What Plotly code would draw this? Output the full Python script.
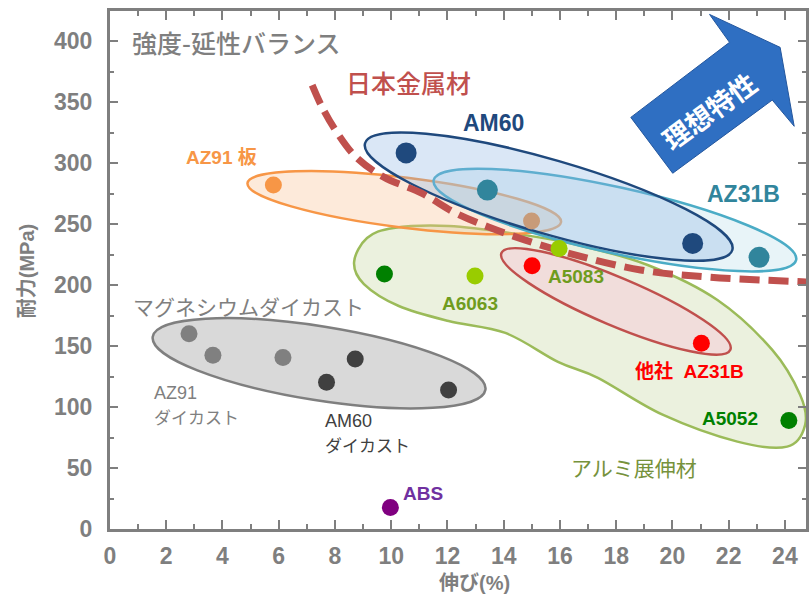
import math
import plotly.graph_objects as go

# ---- canvas / axes ----
W, H = 809, 596
M_L, M_R, M_T, M_B = 110, 0, 11, 67
X_MAX, Y_MAX = 24.75, 424.6
SX = (W - M_L - M_R) / X_MAX   # px per % elongation
SY = (H - M_T - M_B) / Y_MAX   # px per MPa

GRAY = "#7F7F7F"
JP = "Noto Sans CJK JP"
LAT = "Liberation Sans, Noto Sans CJK JP"

# ---- measured materials: elongation (%) / proof stress (MPa) ----
am60_x, am60_y = [10.53, 20.72], [308.3, 234.1]
az31b_x, az31b_y = [13.42, 23.08], [277.8, 222.7]
az31b_mid_x, az31b_mid_y = [14.99], [252.4]
az91_plate_x, az91_plate_y = [5.81], [281.9]
other_az31b_x, other_az31b_y = [15.01, 21.03], [215.8, 152.3]
a6063_x, a6063_y = [12.98, 15.97], [207.4, 230.0]
a5052_x, a5052_y = [9.76, 24.14], [209.0, 88.9]
abs_x, abs_y = [9.97], [17.7]
az91_die_x, az91_die_y = [2.81, 3.66, 6.15], [160.1, 142.4, 140.5]
am60_die_x, am60_die_y = [7.70, 8.72, 12.04], [120.3, 139.4, 114.0]

# domestic-metal boundary curve
jp_curve_x = [7.19, 7.54, 8.04, 8.75, 9.74, 11.08, 12.29, 13.46, 14.77, 16.29, 18.87, 21.25, 24.8]
jp_curve_y = [363.8, 345.9, 326.1, 304.8, 288.4, 275.3, 258.9, 247.5, 236.8, 226.2, 212.3, 206.6, 202.5]

# aluminium wrought alloy region outline
alu_x = [8.68, 9.14, 10.09, 12.04, 14.52, 16.64, 19.12, 21.60, 23.55, 24.54, 24.72, 24.08,
         22.31, 19.65, 17.35, 15.93, 14.06, 12.04, 10.27, 9.03]
alu_y = [218.8, 238.5, 246.7, 248.3, 241.7, 232.7, 216.4, 187.7, 146.8, 110.0, 85.5, 67.5,
         71.6, 93.7, 123.9, 137.0, 160.7, 170.5, 182.8, 200.8]

# arrow outline (理想特性)
arrow_x = [18.52, 22.03, 21.32, 23.83, 24.33, 23.55, 20.01]
arrow_y = [337.4, 398.9, 421.8, 394.8, 330.1, 351.6, 291.6]


def ellipse_path(p1, p2, half_w_px):
    """Closed bezier path of an ellipse with axis p1-p2 and given screen half-width."""
    cx, cy = (p1[0] + p2[0]) / 2, (p1[1] + p2[1]) / 2
    ux, uy = (p2[0] - p1[0]) / 2, (p2[1] - p1[1]) / 2
    upx, upy = ux * SX, uy * SY
    L = math.hypot(upx, upy)
    vx, vy = (-upy / L * half_w_px) / SX, (upx / L * half_w_px) / SY
    k = 0.5523

    def P(a):
        return f"{cx + a[0]:.4f},{cy + a[1]:.4f}"

    def add(a, b, s=1.0):
        return (a[0] + s * b[0], a[1] + s * b[1])

    u, v = (ux, uy), (vx, vy)
    nu, nv = (-ux, -uy), (-vx, -vy)
    d = f"M{P(u)}"
    d += f" C{P(add(u, v, k))} {P(add(v, u, k))} {P(v)}"
    d += f" C{P(add(v, u, -k))} {P(add(nu, v, k))} {P(nu)}"
    d += f" C{P(add(nu, v, -k))} {P(add(nv, u, -k))} {P(nv)}"
    d += f" C{P(add(nv, u, k))} {P(add(u, v, -k))} {P(u)} Z"
    return d


def closed_spline_path(xs, ys):
    n = len(xs)
    pts = list(zip(xs, ys))
    d = f"M{pts[0][0]},{pts[0][1]}"
    for i in range(n):
        p0, p1, p2, p3 = pts[i - 1], pts[i], pts[(i + 1) % n], pts[(i + 2) % n]
        c1 = (p1[0] + (p2[0] - p0[0]) / 6, p1[1] + (p2[1] - p0[1]) / 6)
        c2 = (p2[0] - (p3[0] - p1[0]) / 6, p2[1] - (p3[1] - p1[1]) / 6)
        d += f" C{c1[0]:.4f},{c1[1]:.4f} {c2[0]:.4f},{c2[1]:.4f} {p2[0]},{p2[1]}"
    return d + " Z"


def polygon_path(xs, ys):
    return "M" + " L".join(f"{x},{y}" for x, y in zip(xs, ys)) + " Z"


shapes = [
    dict(type="path", path=closed_spline_path(alu_x, alu_y), fillcolor="#EBF1DE",
         line=dict(color="#9BBB59", width=2.5), layer="below"),
    dict(type="path", path=ellipse_path((13.92, 226.2), (22.06, 146.9), 24),
         fillcolor="rgba(242,218,218,0.9)", line=dict(color="#C0504D", width=2.5), layer="below"),
    dict(type="path", path=ellipse_path((1.52, 157.6), (13.35, 114.1), 37),
         fillcolor="#D9D9D9", line=dict(color=GRAY, width=2.5), layer="below"),
    dict(type="path", path=ellipse_path((4.89, 283.5), (16.04, 251.6), 25),
         fillcolor="rgba(250,191,143,0.33)", line=dict(color="#F79646", width=2.5), layer="below"),
    dict(type="path", path=ellipse_path((11.51, 286.0), (24.40, 220.5), 33),
         fillcolor="rgba(183,222,232,0.32)", line=dict(color="#4BACC6", width=2.5), layer="below"),
    dict(type="path", path=ellipse_path((9.07, 316.2), (22.13, 228.7), 37),
         fillcolor="rgba(141,180,226,0.32)", line=dict(color="#1F497D", width=2.5), layer="below"),
    dict(type="path", path=polygon_path(arrow_x, arrow_y), fillcolor="#2F6FC2",
         line=dict(color="#24579E", width=1), layer="above"),
]

fig = go.Figure()

fig.add_trace(go.Scatter(x=jp_curve_x, y=jp_curve_y, mode="lines",
                         line=dict(color="#C0504D", width=7, dash="20px,9px", shape="spline"),
                         hoverinfo="skip", name="日本金属材"))


def pts(x, y, color, size=17, name=""):
    fig.add_trace(go.Scatter(x=x, y=y, mode="markers", name=name,
                             marker=dict(color=color, size=size, line=dict(width=0))))


pts(az91_plate_x, az91_plate_y, "#F79646", name="AZ91 板")
pts(am60_x, am60_y, "#1F497D", 21, "AM60")
pts(az31b_x, az31b_y, "#31859C", 21, "AZ31B")
pts(az31b_mid_x, az31b_mid_y, "#C89B78", name="AZ31B")
pts(other_az31b_x, other_az31b_y, "#FF0000", name="他社 AZ31B")
pts(a6063_x, a6063_y, "#99CC00", name="A6063")
pts(a5052_x, a5052_y, "#008000", name="A5052")
pts(abs_x, abs_y, "#800080", name="ABS")
pts(az91_die_x, az91_die_y, "#808080", name="AZ91 ダイカスト")
pts(am60_die_x, am60_die_y, "#404040", name="AM60 ダイカスト")


def note(text, x, y, color, size, family=LAT, xanchor="center", bold=False, angle=0, weight=None):
    t = f"<b>{text}</b>" if bold else text
    font = dict(color=color, size=size, family=family)
    if weight:
        font["weight"] = weight
    fig.add_annotation(x=x, y=y, text=t, showarrow=False, xanchor=xanchor, yanchor="middle",
                       textangle=angle, font=font)


note("強度-延性バランス", 0.70, 399, GRAY, 25, JP, "left", weight=500)
note("日本金属材", 8.33, 366, "#C0504D", 25, JP, "left", weight=500)
note("AM60", 13.62, 333, "#1F497D", 23, bold=True)
note("AZ31B", 22.51, 275, "#31859C", 23, bold=True)
note("AZ91 板", 3.97, 304.5, "#F79646", 19, bold=True)
note("マグネシウムダイカスト", 0.75, 183, GRAY, 21, JP, "left")
note("AZ91", 1.50, 111.5, GRAY, 18, xanchor="left")
note("ダイカスト", 1.50, 92, GRAY, 17, JP, "left")
note("AM60", 7.59, 88.5, "#404040", 18, xanchor="left")
note("ダイカスト", 7.59, 69, "#404040", 17, JP, "left")
note("ABS", 10.36, 29.5, "#7030A0", 19, xanchor="left", bold=True)
note("A6063", 12.81, 185, "#6F9C1E", 19, bold=True)
note("A5083", 16.57, 207, "#6F9C1E", 19, bold=True)
note("他社  AZ31B", 20.6, 129, "#FF0000", 19, bold=True)
note("A5052", 22.06, 90.5, "#008000", 19, bold=True)
note("アルミ展伸材", 18.62, 51, "#76923C", 21, JP)
note("理想特性", 21.3, 343, "#FFFFFF", 27, JP, bold=True, angle=-36)

# axis titles
fig.add_annotation(x=-0.119, y=0.498, xref="paper", yref="paper", text="<b>耐力(MPa)</b>",
                   showarrow=False, textangle=-90, xanchor="center", yanchor="middle",
                   font=dict(color=GRAY, size=20, family=LAT))
fig.add_annotation(x=0.5236, y=-0.1035, xref="paper", yref="paper", text="<b>伸び(%)</b>",
                   showarrow=False, xanchor="center", yanchor="middle",
                   font=dict(color=GRAY, size=20, family=LAT))

axis_common = dict(showgrid=False, zeroline=False, showline=True, linecolor=GRAY, linewidth=3,
                   mirror="ticks", ticks="inside", tickcolor=GRAY, tickwidth=2,
                   tickfont=dict(color=GRAY, size=23, family="Liberation Sans", weight="bold"),
                   fixedrange=True)

fig.update_layout(
    width=W, height=H,
    margin=dict(l=M_L, r=M_R, t=M_T, b=M_B),
    paper_bgcolor="white", plot_bgcolor="white",
    showlegend=False,
    shapes=shapes,
    xaxis=dict(range=[0, X_MAX], tick0=0, dtick=2, ticklen=9, ticklabelstandoff=4,
               minor=dict(dtick=1, ticks="inside", ticklen=5, tickcolor=GRAY, tickwidth=2),
               **axis_common),
    yaxis=dict(range=[0, Y_MAX], tick0=0, dtick=50, ticklen=8, ticklabelstandoff=10,
               minor=dict(dtick=25, ticks="inside", ticklen=4, tickcolor=GRAY, tickwidth=2),
               **axis_common),
)

fig.write_html("out.html")
